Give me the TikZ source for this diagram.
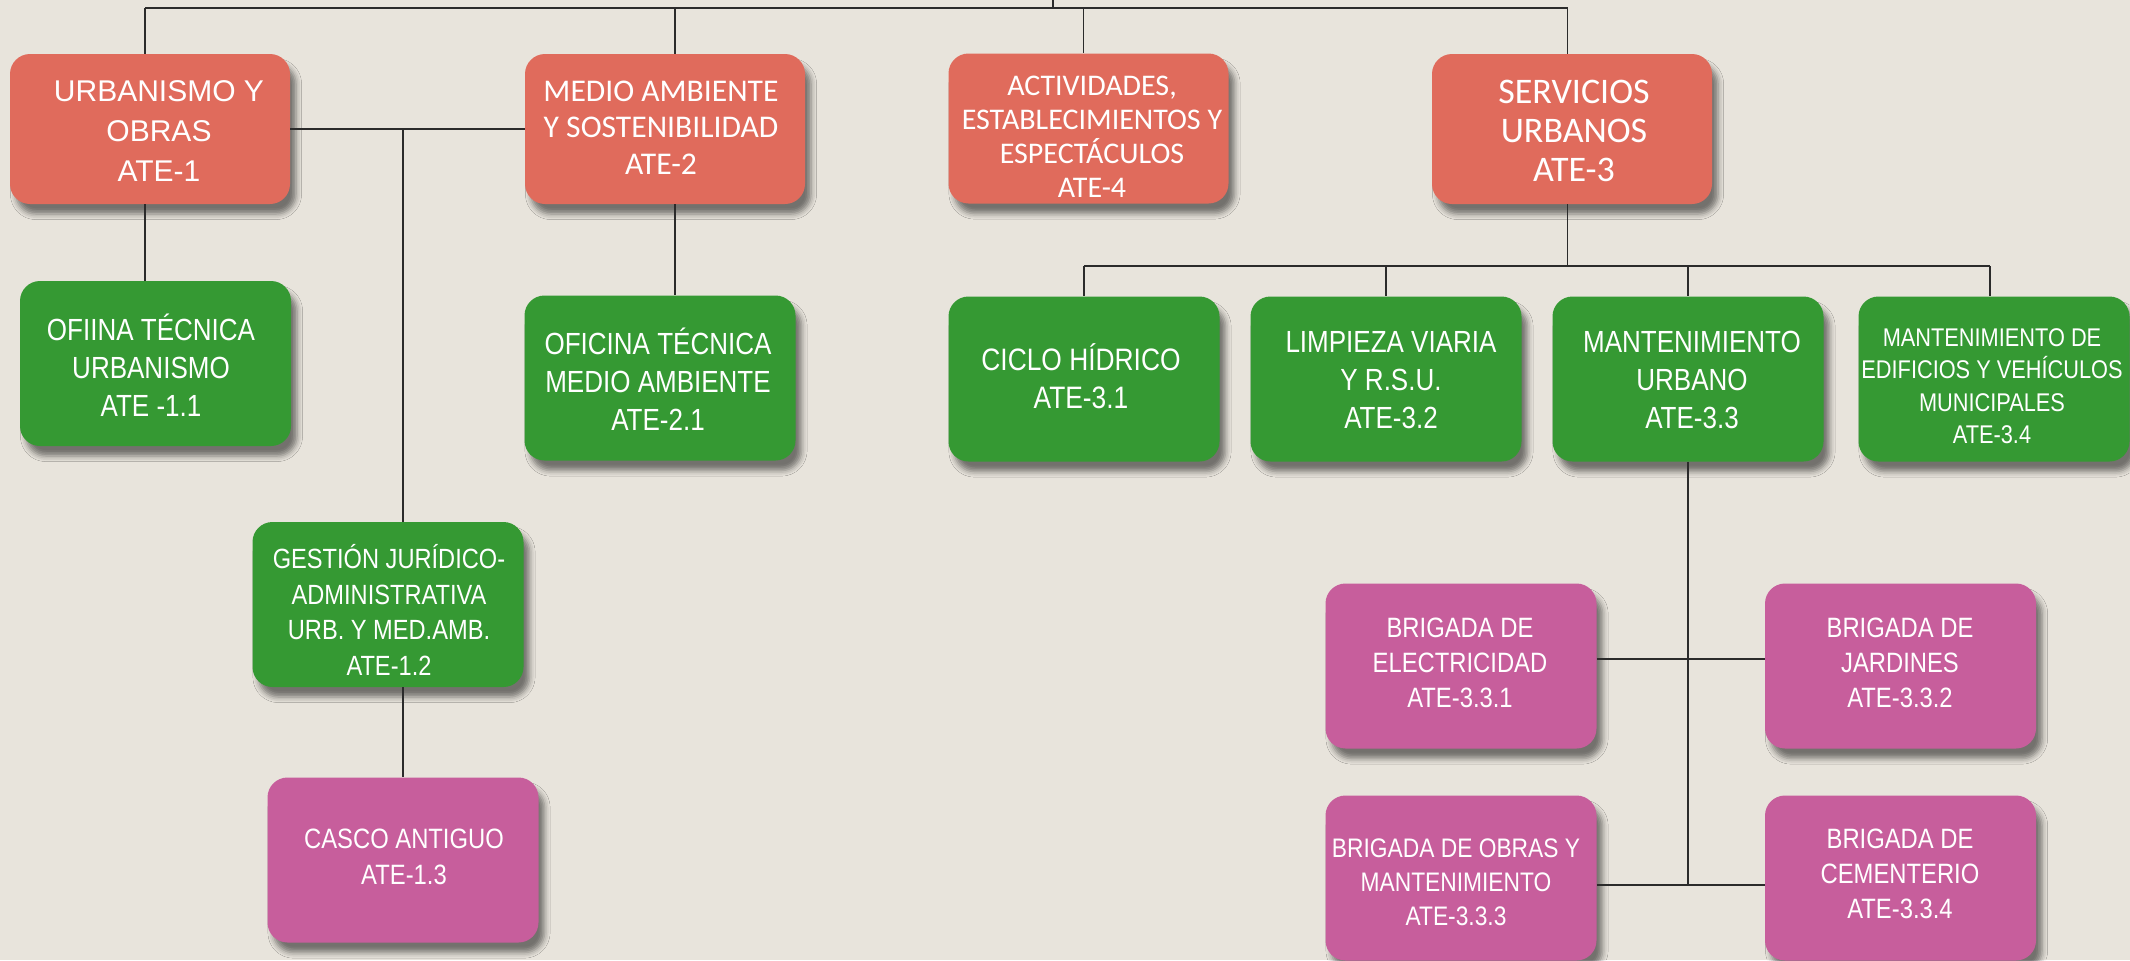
\documentclass[tikz,border=0pt]{standalone}
\usepackage{fontspec}
\setmainfont{Liberation Sans}
\newfontfamily\narrowfont{Liberation Sans}[FakeStretch=0.85]
\newfontfamily\calfont{Carlito}
\usetikzlibrary{shadows.blur}
\definecolor{bgc}{HTML}{E8E4DC}
\definecolor{redc}{HTML}{E06B5C}
\definecolor{greenc}{HTML}{359933}
\definecolor{pinkc}{HTML}{C75E9C}
\definecolor{linec}{HTML}{2B2B2B}
\begin{document}
\begin{tikzpicture}[x=0.5pt,y=-0.5pt,
  box/.style={rounded corners=10pt, draw=none, inner sep=0pt,
    blur shadow={shadow xshift=3pt, shadow yshift=-5pt, shadow blur radius=2.8pt, shadow opacity=50}},
  redbox/.style={box, fill=redc, minimum width=140pt, minimum height=75pt},
  greenbox/.style={box, fill=greenc, minimum width=135.5pt, minimum height=82.5pt},
  pinkbox/.style={box, fill=pinkc, minimum width=135.5pt, minimum height=82.5pt},
  txt/.style={text=white, align=center, inner sep=0pt},
  conn/.style={draw=linec, line width=0.75pt}]
\useasboundingbox (0,0) rectangle (2130,960);
\clip (0,0) rectangle (2130,960);
\fill[bgc] (0,0) rectangle (2130,960);

% junction coordinates
\coordinate (root) at (1053,-10);
\coordinate (bus) at (1053,8);
\coordinate (xu) at (145,8);
\coordinate (xm) at (675,8);
\coordinate (xa) at (1083.5,8);
\coordinate (xs) at (1567.5,8);
\coordinate (bus2) at (1567.5,266);
\coordinate (xe) at (1990,266);
\coordinate (h1) at (1688,659);
\coordinate (h2) at (1688,885);

% boxes (drawn as nodes, text separately)
\node[redbox] (urb) at (150,129) {};
\node[redbox] (ma) at (665,129) {};
\node[redbox] (act) at (1088.5,128.5) {};
\node[redbox] (serv) at (1572,129) {};
\node[greenbox] (ofi) at (155.5,363.5) {};
\node[greenbox] (ofma) at (660,378) {};
\node[greenbox] (gest) at (388,604.5) {};
\node[pinkbox] (casco) at (403,860) {};
\node[greenbox] (ciclo) at (1084,379) {};
\node[greenbox] (limp) at (1386,379) {};
\node[greenbox] (mant) at (1688,379) {};
\node[greenbox] (medif) at (1994,379) {};
\node[pinkbox] (elec) at (1461,666) {};
\node[pinkbox] (jard) at (1900.5,666) {};
\node[pinkbox] (obras) at (1461,878) {};
\node[pinkbox] (cem) at (1900.5,878) {};

% connectors
\draw[conn] (root) -- (bus);
\draw[conn] (xu) -- (xs);
\draw[conn] (xu) -- (xu |- urb.north);
\draw[conn] (xm) -- (xm |- ma.north);
\draw[conn] (xa) -- (xa |- act.north);
\draw[conn] (xs) -- (xs |- serv.north);
\draw[conn] (xu |- urb.south) -- (xu |- ofi.north);
\draw[conn] (urb.east) -- (ma.west);
\draw[conn] (urb.east -| casco.north) -- (casco.north |- gest.north);
\draw[conn] (casco.north |- gest.south) -- (casco.north);
\draw[conn] (xm |- ma.south) -- (xm |- ofma.north);
\draw[conn] (xs |- serv.south) -- (bus2);
\draw[conn] (ciclo.north |- bus2) -- (xe);
\draw[conn] (ciclo.north |- bus2) -- (ciclo.north);
\draw[conn] (limp.north |- bus2) -- (limp.north);
\draw[conn] (mant.north |- bus2) -- (mant.north);
\draw[conn] (xe) -- (xe |- medif.north);
\draw[conn] (mant.south) -- (h2);
\draw[conn] (elec.east |- h1) -- (jard.west |- h1);
\draw[conn] (obras.east |- h2) -- (cem.west |- h2);

% texts
\node[txt, font=\fontsize{15}{20}\selectfont] (urbt) at (159,131) {URBANISMO Y\\OBRAS\\ATE-1};
\node[txt, font=\calfont\fontsize{15.8}{18.3}\selectfont] (mat) at (661,127.5) {MEDIO AMBIENTE\\Y SOSTENIBILIDAD\\ATE-2};
\node[txt, font=\calfont\fontsize{15}{17}\selectfont] (actt) at (1092,136.5) {ACTIVIDADES,\\ESTABLECIMIENTOS Y\\ESPECTÁCULOS\\ATE-4};
\node[txt, font=\calfont\fontsize{18}{19.5}\selectfont] (servt) at (1574,131) {SERVICIOS\\URBANOS\\ATE-3};
\node[txt, font=\narrowfont\fontsize{15.3}{19}\selectfont] (ofit) at (151,365) {OFIINA TÉCNICA\\URBANISMO\\ATE -1.1};
\node[txt, font=\narrowfont\fontsize{15.3}{19}\selectfont] (ofmat) at (658,379.5) {OFICINA TÉCNICA\\MEDIO AMBIENTE\\ATE-2.1};
\node[txt, font=\narrowfont\fontsize{13.9}{17.7}\selectfont] (gestt) at (389,610) {GESTIÓN JURÍDICO-\\ADMINISTRATIVA\\URB. Y MED.AMB.\\ATE-1.2};
\node[txt, font=\narrowfont\fontsize{14}{18}\selectfont] (cascot) at (404,857) {CASCO ANTIGUO\\ATE-1.3};
\node[txt, font=\narrowfont\fontsize{15.5}{19}\selectfont] (ciclot) at (1081,376) {CICLO HÍDRICO\\ATE-3.1};
\node[txt, font=\narrowfont\fontsize{15.3}{19}\selectfont] (limpt) at (1391,380) {LIMPIEZA VIARIA\\Y R.S.U.\\ATE-3.2};
\node[txt, font=\narrowfont\fontsize{15.3}{19}\selectfont] (mantt) at (1692,380) {MANTENIMIENTO\\URBANO\\ATE-3.3};
\node[txt, font=\narrowfont\fontsize{12.8}{16.25}\selectfont] (medift) at (1992,386) {MANTENIMIENTO DE\\EDIFICIOS Y VEHÍCULOS\\MUNICIPALES\\ATE-3.4};
\node[txt, font=\narrowfont\fontsize{14}{17.5}\selectfont] (elect) at (1460,663) {BRIGADA DE\\ELECTRICIDAD\\ATE-3.3.1};
\node[txt, font=\narrowfont\fontsize{14}{17.5}\selectfont] (jardt) at (1900,663) {BRIGADA DE\\JARDINES\\ATE-3.3.2};
\node[txt, font=\narrowfont\fontsize{13.4}{17}\selectfont] (obrast) at (1456,882) {BRIGADA DE OBRAS Y\\MANTENIMIENTO\\ATE-3.3.3};
\node[txt, font=\narrowfont\fontsize{14}{17.5}\selectfont] (cemt) at (1900,874) {BRIGADA DE\\CEMENTERIO\\ATE-3.3.4};
\end{tikzpicture}
\end{document}
